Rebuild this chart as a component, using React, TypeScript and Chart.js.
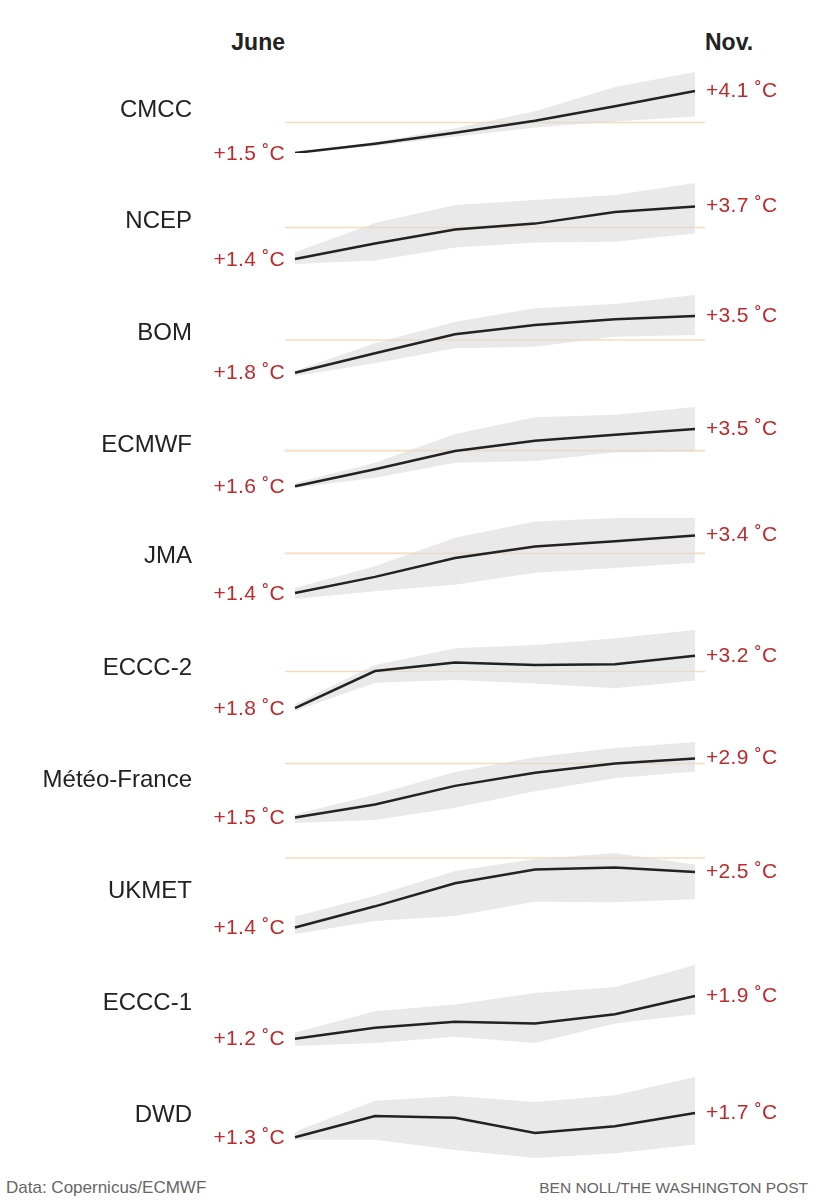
import React, { useEffect, useRef } from 'react';
import { Chart, registerables } from 'chart.js';

Chart.register(...registerables);

const MONTHS = ['June', 'July', 'Aug.', 'Sept.', 'Oct.', 'Nov.'];
const MODELS = ['CMCC', 'NCEP', 'BOM', 'ECMWF', 'JMA', 'ECCC-2', 'Météo-France', 'UKMET', 'ECCC-1', 'DWD'];

// Ensemble mean anomaly (°C) per month, June → Nov., with ensemble range
const CMCC_MEAN = [1.5, 1.89, 2.35, 2.85, 3.46, 4.1];
const CMCC_HIGH = [1.5, 1.96, 2.54, 3.25, 4.27, 4.9];
const CMCC_LOW = [1.5, 1.79, 2.18, 2.57, 2.82, 3.03];

const NCEP_MEAN = [1.4, 2.08, 2.69, 2.95, 3.46, 3.7];
const NCEP_HIGH = [1.69, 2.98, 3.77, 3.99, 4.2, 4.73];
const NCEP_LOW = [1.18, 1.33, 1.9, 2.12, 2.15, 2.52];

const BOM_MEAN = [1.8, 2.38, 2.95, 3.23, 3.4, 3.5];
const BOM_HIGH = [1.86, 2.68, 3.33, 3.73, 3.86, 4.13];
const BOM_LOW = [1.7, 2.08, 2.53, 2.58, 2.88, 2.93];

const ECMWF_MEAN = [1.6, 2.16, 2.77, 3.11, 3.31, 3.5];
const ECMWF_HIGH = [1.71, 2.38, 3.33, 3.89, 3.97, 4.23];
const ECMWF_LOW = [1.54, 1.88, 2.38, 2.44, 2.72, 2.75];

const JMA_MEAN = [1.4, 1.96, 2.62, 3.02, 3.2, 3.4];
const JMA_HIGH = [1.57, 2.33, 3.32, 3.89, 4.01, 4.01];
const JMA_LOW = [1.19, 1.46, 1.69, 2.1, 2.27, 2.45];

const ECCC2_MEAN = [1.8, 2.79, 3.02, 2.95, 2.97, 3.2];
const ECCC2_HIGH = [1.91, 2.95, 3.4, 3.49, 3.67, 3.89];
const ECCC2_LOW = [1.72, 2.48, 2.55, 2.46, 2.33, 2.54];

const MF_MEAN = [1.5, 1.81, 2.25, 2.56, 2.78, 2.9];
const MF_HIGH = [1.58, 2.04, 2.58, 2.93, 3.15, 3.29];
const MF_LOW = [1.37, 1.44, 1.73, 2.12, 2.43, 2.59];

const UKMET_MEAN = [1.4, 1.82, 2.28, 2.55, 2.59, 2.5];
const UKMET_HIGH = [1.62, 2.03, 2.52, 2.76, 2.88, 2.65];
const UKMET_LOW = [1.27, 1.53, 1.63, 1.91, 1.9, 1.96];

const ECCC1_MEAN = [1.2, 1.38, 1.48, 1.45, 1.6, 1.9];
const ECCC1_HIGH = [1.3, 1.65, 1.76, 1.95, 2.05, 2.41];
const ECCC1_LOW = [1.08, 1.13, 1.23, 1.13, 1.45, 1.6];

const DWD_MEAN = [1.3, 1.65, 1.62, 1.37, 1.48, 1.7];
const DWD_HIGH = [1.39, 1.9, 1.98, 1.88, 1.99, 2.29];
const DWD_LOW = [1.26, 1.26, 1.09, 0.96, 1.04, 1.18];

const MEANS = [CMCC_MEAN, NCEP_MEAN, BOM_MEAN, ECMWF_MEAN, JMA_MEAN, ECCC2_MEAN, MF_MEAN, UKMET_MEAN, ECCC1_MEAN, DWD_MEAN];
const HIGHS = [CMCC_HIGH, NCEP_HIGH, BOM_HIGH, ECMWF_HIGH, JMA_HIGH, ECCC2_HIGH, MF_HIGH, UKMET_HIGH, ECCC1_HIGH, DWD_HIGH];
const LOWS = [CMCC_LOW, NCEP_LOW, BOM_LOW, ECMWF_LOW, JMA_LOW, ECCC2_LOW, MF_LOW, UKMET_LOW, ECCC1_LOW, DWD_LOW];

const THRESHOLD = 2.78;

const SOURCE = 'Data: Copernicus/ECMWF';
const CREDIT = 'BEN NOLL/THE WASHINGTON POST';

const RED = '#bd2a2c';
const FONT = '"Liberation Sans", Arial, sans-serif';

const W = 817;
const PANEL_H = 112;
const PAD_TOP = 15;
const PAD_BOTTOM = 16;
const FIRST_TOP = 56.7;
const STEP = 111.67;

const fmt = (v: number) => `+${v.toFixed(1)} ˚C`;

function Panel({ name, mean, high, low, top }: { name: string; mean: number[]; high: number[]; low: number[]; top: number }) {
  const ref = useRef<HTMLCanvasElement>(null);
  useEffect(() => {
    if (!ref.current) return;
    const toXY = (arr: number[]) => arr.map((y, i) => ({ x: i, y }));
    const last = mean.length - 1;
    const labels = {
      id: 'panelLabels',
      afterDraw(chart: any) {
        const { ctx, chartArea } = chart;
        const xs = chart.scales.x;
        const ys = chart.scales.y;
        ctx.save();
        ctx.textBaseline = 'middle';
        ctx.font = `24px ${FONT}`;
        ctx.fillStyle = '#222';
        ctx.textAlign = 'right';
        ctx.fillText(name, 192, chartArea.top + 38);
        ctx.font = `21px ${FONT}`;
        try {
          (ctx as any).letterSpacing = '0.3px';
        } catch (e) {
          /* ignore */
        }
        ctx.fillStyle = RED;
        ctx.textAlign = 'right';
        ctx.fillText(fmt(mean[0]), xs.getPixelForValue(0) - 10, ys.getPixelForValue(mean[0]) + 1);
        ctx.textAlign = 'left';
        ctx.fillText(fmt(mean[last]), xs.getPixelForValue(last) + 11, ys.getPixelForValue(mean[last]));
        ctx.restore();
      },
    };
    const chart = new Chart(ref.current, {
      type: 'line',
      data: {
        datasets: [
          { data: toXY(mean), borderColor: '#222', borderWidth: 2.5, pointRadius: 0, fill: false, tension: 0 },
          { data: toXY(high), borderColor: 'transparent', borderWidth: 0, pointRadius: 0, fill: '+1', backgroundColor: 'rgba(218,218,218,0.6)' },
          { data: toXY(low), borderColor: 'transparent', borderWidth: 0, pointRadius: 0, fill: false },
          {
            data: [
              { x: -0.125, y: THRESHOLD },
              { x: last + 0.125, y: THRESHOLD },
            ],
            borderColor: '#f7dcbc',
            borderWidth: 1.6,
            pointRadius: 0,
            fill: false,
          },
        ],
      } as any,
      options: {
        responsive: false,
        animation: false,
        events: [],
        layout: { padding: { left: 285, right: W - 705, top: PAD_TOP, bottom: PAD_BOTTOM } },
        scales: {
          x: { type: 'linear', min: -0.125, max: last + 0.125, display: false },
          y: { type: 'linear', min: Math.min(...low), max: Math.max(...high), display: false },
        },
        plugins: { legend: { display: false }, tooltip: { enabled: false } },
      } as any,
      plugins: [labels],
    });
    return () => chart.destroy();
  }, [name, mean, high, low]);
  return (
    <canvas
      ref={ref}
      width={W}
      height={PANEL_H}
      style={{ position: 'absolute', left: 0, top, width: W, height: PANEL_H }}
    />
  );
}

export default function App() {
  useEffect(() => {
    document.body.style.margin = '0';
  }, []);
  const headStyle: React.CSSProperties = {
    position: 'absolute',
    top: 29,
    fontFamily: FONT,
    fontWeight: 'bold',
    fontSize: 23,
    lineHeight: '26px',
    color: '#222',
    whiteSpace: 'nowrap',
  };
  const footStyle: React.CSSProperties = {
    position: 'absolute',
    top: 1178,
    fontFamily: FONT,
    lineHeight: '20px',
    color: '#666',
    whiteSpace: 'nowrap',
  };
  return (
    <div style={{ position: 'relative', width: W, height: 1200, background: '#fff', overflow: 'hidden' }}>
      <div style={{ ...headStyle, right: W - 285 }}>{MONTHS[0]}</div>
      <div style={{ ...headStyle, left: 705 }}>{MONTHS[MONTHS.length - 1]}</div>
      {MODELS.map((m, i) => (
        <Panel key={m} name={m} mean={MEANS[i]} high={HIGHS[i]} low={LOWS[i]} top={FIRST_TOP + STEP * i} />
      ))}
      <div style={{ ...footStyle, left: 6, fontSize: 17 }}>{SOURCE}</div>
      <div style={{ ...footStyle, right: 9, fontSize: 15.5 }}>{CREDIT}</div>
    </div>
  );
}
